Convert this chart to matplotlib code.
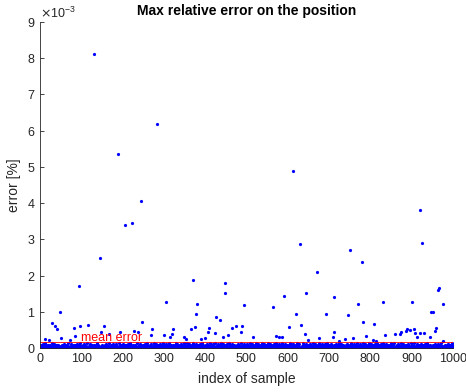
import numpy as np
import matplotlib
matplotlib.use('Agg')
import matplotlib.pyplot as plt

plt.rcParams['font.family'] = ['Liberation Sans', 'DejaVu Sans']

# large errors: (index of sample, error in 1e-3 %)
big_idx = [132, 283, 189, 612, 244, 920, 222, 205, 925, 630, 752, 145, 781, 672,
           370, 449, 94, 966, 963, 447, 645, 592, 713, 305, 830, 902, 381, 771,
           977, 493, 565, 48, 947, 953, 378, 621, 692, 747, 427, 437, 783, 247,
           30, 808, 36, 632, 98, 116, 156, 375, 602, 474, 489, 41, 83, 272, 322,
           365, 409, 465, 905, 960, 896]
big_val = [8.12, 6.19, 5.36, 4.90, 4.06, 3.81, 3.45, 3.40, 2.89, 2.86, 2.70, 2.49, 2.37, 2.10,
           1.88, 1.81, 1.71, 1.65, 1.60, 1.53, 1.51, 1.43, 1.40, 1.27, 1.28, 1.28, 1.21, 1.21,
           1.21, 1.18, 1.13, 0.99, 0.99, 0.99, 0.93, 0.93, 0.93, 0.92, 0.87, 0.77, 0.73, 0.73,
           0.68, 0.66, 0.62, 0.64, 0.62, 0.63, 0.61, 0.59, 0.59, 0.60, 0.61, 0.53, 0.56, 0.52, 0.54,
           0.54, 0.55, 0.56, 0.52, 0.55, 0.51]

# medium errors just above the band
mid_idx = [11, 21, 50, 72, 84, 147, 168, 193, 227, 237, 270, 300, 314, 319, 350, 353,
           391, 399, 406, 423, 443, 455, 486, 515, 571, 580, 585, 643, 650, 677, 710,
           711, 725, 738, 757, 789, 806, 815, 835, 859, 872, 875, 886, 890, 909, 912,
           921, 929, 944, 957, 975]
mid_val = [0.25, 0.21, 0.28, 0.22, 0.33, 0.44, 0.39, 0.44, 0.47, 0.44, 0.36, 0.36, 0.30, 0.39, 0.30, 0.24,
           0.25, 0.28, 0.45, 0.41, 0.30, 0.36, 0.44, 0.30, 0.33, 0.31, 0.30, 0.39, 0.23, 0.28, 0.30,
           0.45, 0.20, 0.25, 0.28, 0.33, 0.22, 0.20, 0.35, 0.38, 0.39, 0.45, 0.48, 0.52, 0.41, 0.30,
           0.41, 0.41, 0.30, 0.48, 0.19]

# dense band near zero, one digit per sample (digit * 0.03e-3 %)
band_rows = [
    "2130214031 2051302213 4012302150 3102410312 0313021406",
    "1203120412 3021031520 1302413021 0312031204 2130315021",
    "0213041203 1205130214 0312023103 1402130251 3021403120",
    "3120213041 0231205312 1302140213 2031402130 1520313021",
    "1402130312 0413021502 3120314021 3021052031 2041302130",
    "2031402153 1202130412 0312503120 4130213021 4031205312",
    "0312041302 1530213041 2031203152 0413021302 1403120531",
    "1302150312 0413021302 5130214031 2031204130 2150312041",
    "3021403120 5130213041 2031502130 4120312053 1204130213",
    "2140312053 1203140213 0215031204 1302130512 0314021302",
    "0413021503 1204130213 0251302140 3120315021 3041203120",
    "1530214031 2013041302 1503120413 0213025130 2140312031",
    "2031504130 2140312013 0512031402 1302150313 0214031205",
    "3120413021 5031204130 2130251302 1403120314 0213051203",
    "1204130215 0312041302 1305120314 0213021503 1204130213",
    "0215031204 1302130512 0314021302 1503120413 0213025130",
    "4130213021 4031205312 0312041302 1530213041 2031203152",
    "2130315021 0213041203 1205130214 0312023103 1402130251",
    "3021052031 2041302130 1402130312 0413021502 3120314021",
    "1302140213 2031402130 1520313021 3120213041 0231205312",
]

band = np.array([int(c) for c in "".join(band_rows).replace(" ", "")]) * 0.03
err = band.copy()
for i, v in zip(mid_idx, mid_val):
    err[i - 1] = v
for i, v in zip(big_idx, big_val):
    err[i - 1] = v
err = err * 1e-3
idx = np.arange(1, len(err) + 1)
mean_err = err.mean()

fig = plt.figure(figsize=(4.66, 3.92), dpi=100)
ax = fig.add_axes([0.0858, 0.112, 0.886, 0.832])
ax.plot(idx, err, 'o', color='#0000ff', ms=2.3, mew=0)
ax.plot([0, 1000], [mean_err, mean_err], color='#ff0000', lw=0.6)
ax.text(100, 0.28e-3, 'mean error', color='#ff0000', fontsize=9, va='center')

ax.set_xlim(0, 1000)
ax.set_ylim(0, 9e-3)
ax.set_xticks(np.arange(0, 1001, 100))
ax.set_yticks(np.arange(0, 9.5e-3, 1e-3))
ax.ticklabel_format(axis='y', style='sci', scilimits=(0, 0), useMathText=True)
ax.yaxis.get_offset_text().set_fontsize(9)
ax.yaxis.get_offset_text().set_color('#262626')
ax.tick_params(direction='in', labelsize=9, colors='#262626', length=3, width=0.6)
for s in ['top', 'right']:
    ax.spines[s].set_visible(False)
for s in ['left', 'bottom']:
    ax.spines[s].set_color('#262626')
    ax.spines[s].set_linewidth(0.6)

ax.set_title('Max relative error on the position', fontsize=10, fontweight='bold', pad=5)
ax.set_xlabel('index of sample', fontsize=10, color='#262626', labelpad=5)
ax.set_ylabel('error [%]', fontsize=10, color='#262626', labelpad=4)

fig.savefig('out.png', dpi=100)
